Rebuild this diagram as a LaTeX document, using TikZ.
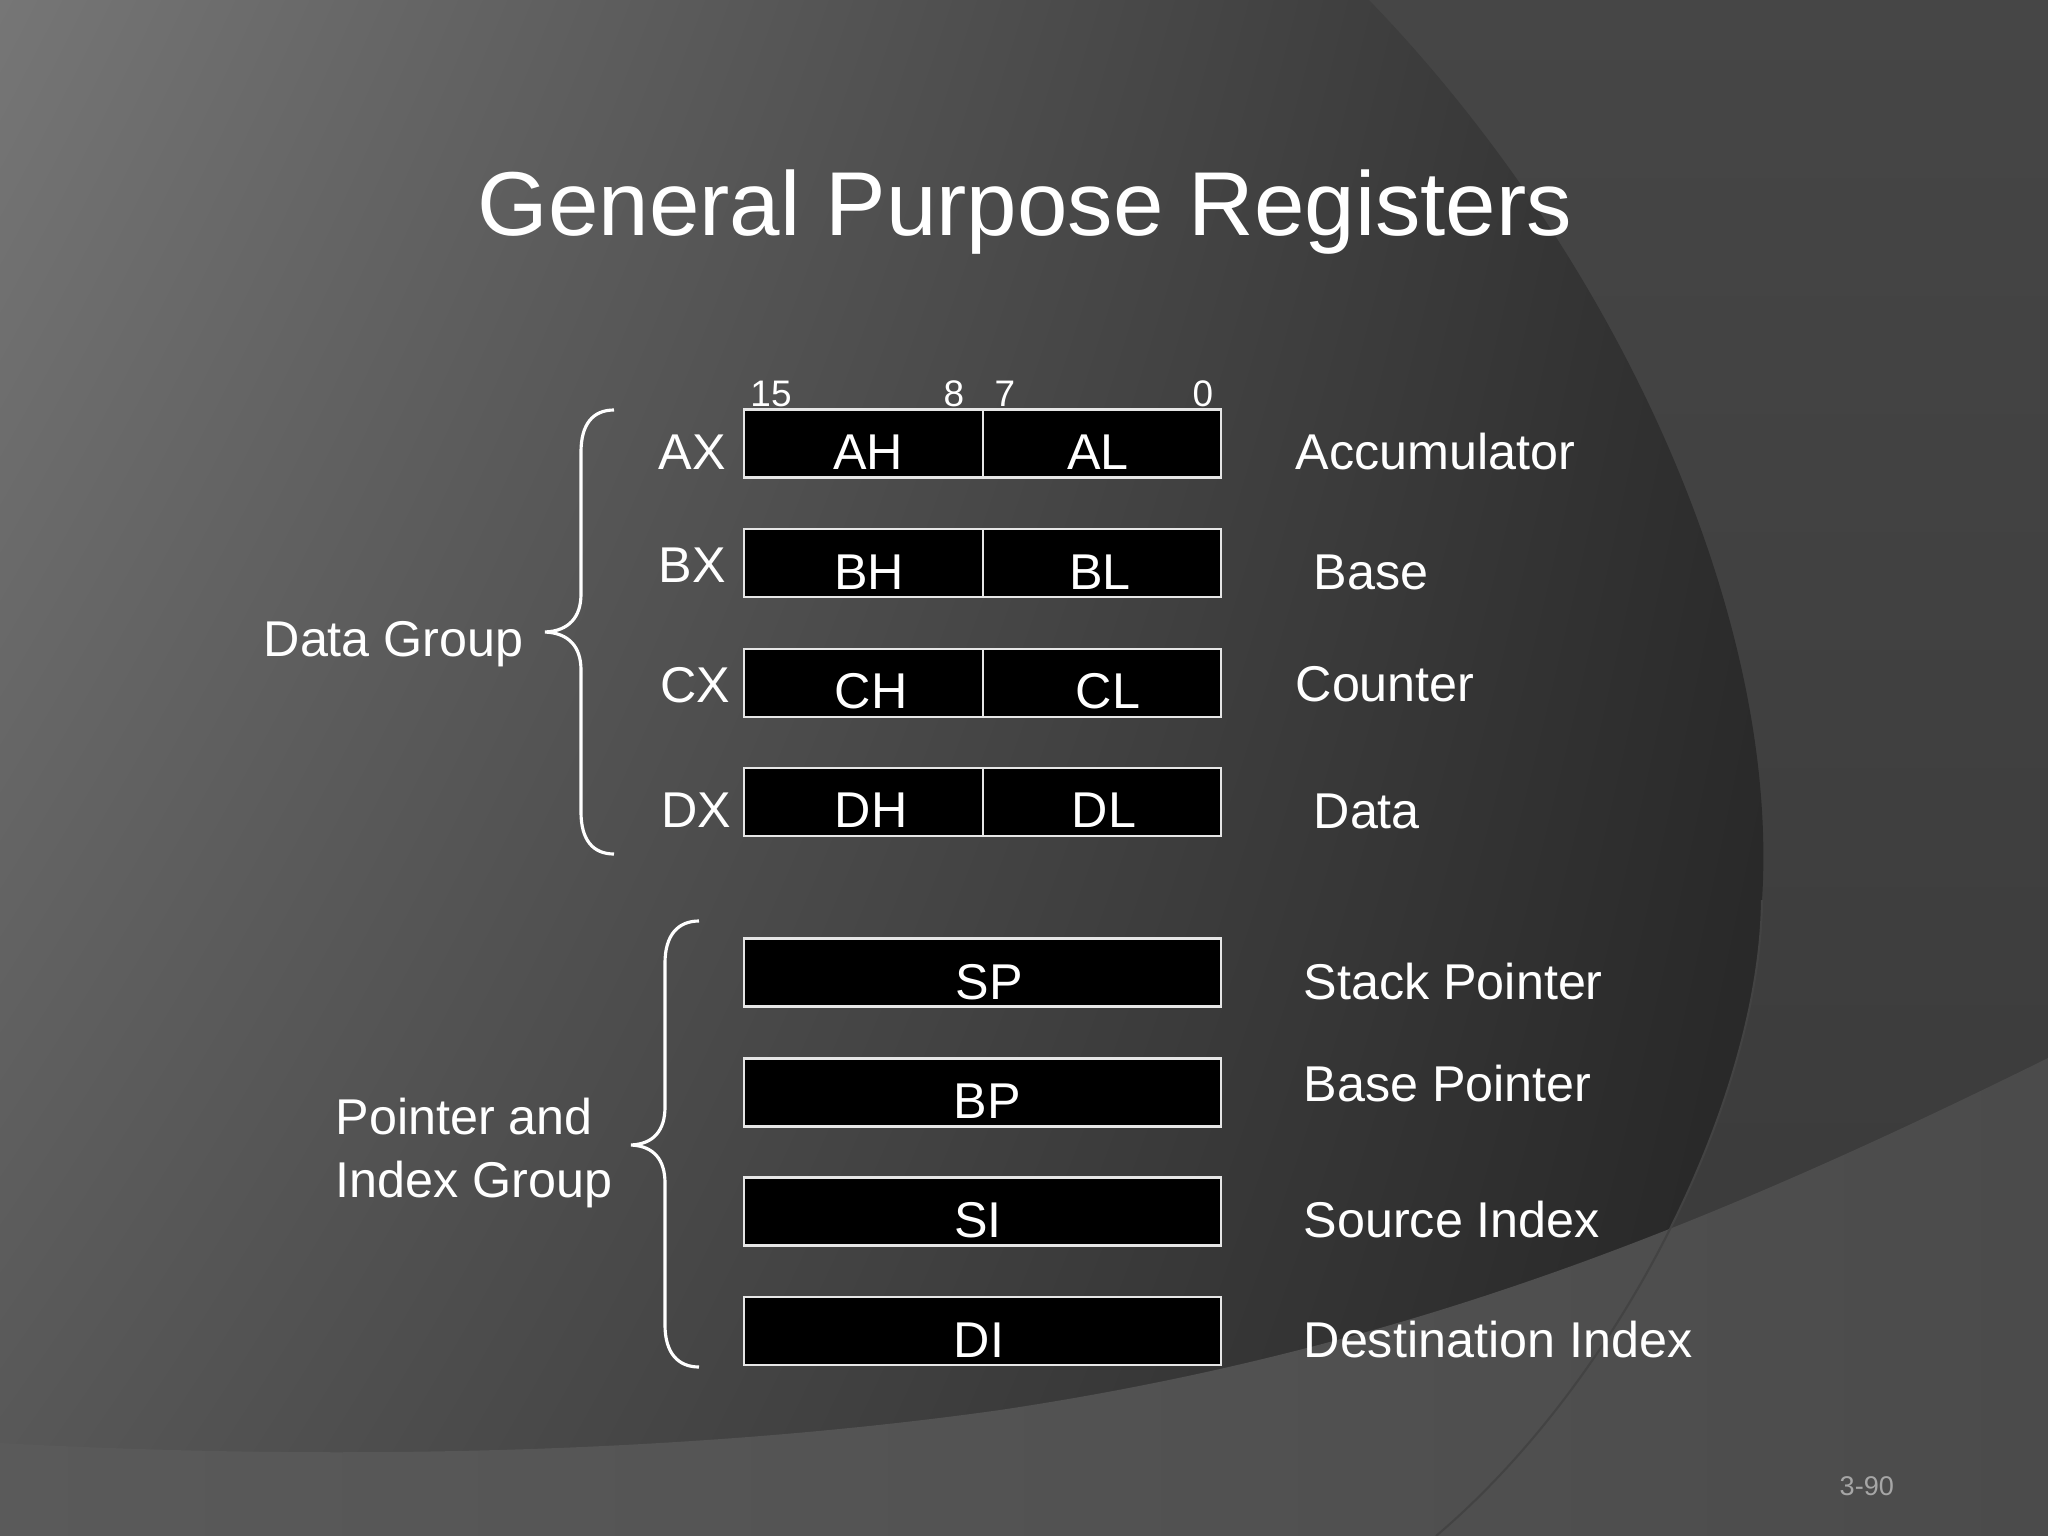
\documentclass[tikz,border=0pt]{standalone}
\usepackage{fontspec}
\setmainfont{Liberation Sans}
\usetikzlibrary{shadings}
\definecolor{ulC}{HTML}{767676}
\definecolor{urC}{HTML}{2E2E2E}
\definecolor{llC}{HTML}{565656}
\definecolor{lrC}{HTML}{242424}
\definecolor{outTop}{HTML}{464646}
\definecolor{outBot}{HTML}{393939}
\definecolor{bandL}{HTML}{5A5A5A}
\definecolor{bandR}{HTML}{4B4B4B}
\definecolor{arcLine}{HTML}{434343}
\definecolor{boxLine}{HTML}{E6E6E6}
\definecolor{pageNum}{HTML}{A6A6A6}
\begin{document}
\begin{tikzpicture}[x=0.01cm, y=-0.01cm,
  lbl/.style={text=white, inner sep=0pt, font=\fontsize{14.3pt}{17pt}\selectfont},
  bitnum/.style={text=white, inner sep=0pt, font=\fontsize{10.5pt}{12pt}\selectfont},
  regbox/.style={draw=boxLine, fill=black, line width=0.7pt, minimum height=0.68cm, inner sep=0pt},
  brc/.style={draw=white, line width=0.9pt}]
% ---- background ----
\useasboundingbox (0,0) rectangle (2048,1536);
\shade[top color=outTop, bottom color=outBot] (0,0) rectangle (2048,1536);
\shade[upper left=ulC, upper right=urC, lower left=llC, lower right=lrC]
  (0,0) -- (1369,0) .. controls (1620,260) and (1780,620) .. (1762,900)
  .. controls (1760,1100) and (1620,1380) .. (1436,1536) -- (0,1536) -- cycle;
\shade[left color=bandL, right color=bandR]
  (0,1443) .. controls (350,1462) and (700,1452) .. (1000,1410)
  .. controls (1400,1350) and (1700,1230) .. (2048,1058) -- (2048,1536) -- (0,1536) -- cycle;
\draw[arcLine, line width=0.6pt] (1762,900) .. controls (1760,1100) and (1620,1380) .. (1436,1536);
% ---- title ----
\node[lbl, font=\fontsize{25.8pt}{30pt}\selectfont, anchor=base] (title) at (1025,235) {General Purpose Registers};
% ---- bit numbers ----
\node[bitnum, anchor=base] (b15) at (771,406) {15};
\node[bitnum, anchor=base] (b8) at (954,406) {8};
\node[bitnum, anchor=base] (b7) at (1005,406) {7};
\node[bitnum, anchor=base] (b0) at (1203,406) {0};
% ---- data registers ----
\node[regbox, minimum width=2.39cm] (AHbox) at (863.5,443.5) {};
\node[regbox, minimum width=2.38cm] (ALbox) at (1102,443.5) {};
\node[regbox, minimum width=2.39cm] (BHbox) at (863.5,563) {};
\node[regbox, minimum width=2.38cm] (BLbox) at (1102,563) {};
\node[regbox, minimum width=2.39cm] (CHbox) at (863.5,683) {};
\node[regbox, minimum width=2.38cm] (CLbox) at (1102,683) {};
\node[regbox, minimum width=2.39cm] (DHbox) at (863.5,802) {};
\node[regbox, minimum width=2.38cm] (DLbox) at (1102,802) {};
% ---- pointer / index registers ----
\node[regbox, minimum width=4.77cm] (SPbox) at (982.5,972.5) {};
\node[regbox, minimum width=4.77cm] (BPbox) at (982.5,1092.5) {};
\node[regbox, minimum width=4.77cm] (SIbox) at (982.5,1211.5) {};
\node[regbox, minimum width=4.77cm] (DIbox) at (982.5,1331) {};
% ---- register names ----
\node[lbl, anchor=base] (AX) at (692,469) {AX};
\node[lbl, anchor=base] (BX) at (692,582) {BX};
\node[lbl, anchor=base] (CX) at (695,702) {CX};
\node[lbl, anchor=base] (DX) at (696,827) {DX};
\node[lbl, anchor=base] (AH) at (868,469) {AH};
\node[lbl, anchor=base] (AL) at (1098,469) {AL};
\node[lbl, anchor=base] (BH) at (869,589) {BH};
\node[lbl, anchor=base] (BL) at (1100,589) {BL};
\node[lbl, anchor=base] (CH) at (871,708) {CH};
\node[lbl, anchor=base] (CL) at (1108,708) {CL};
\node[lbl, anchor=base] (DH) at (871,827) {DH};
\node[lbl, anchor=base] (DL) at (1104,827) {DL};
\node[lbl, anchor=base] (SP) at (989,999) {SP};
\node[lbl, anchor=base] (BP) at (987,1118) {BP};
\node[lbl, anchor=base] (SI) at (978,1237) {SI};
\node[lbl, anchor=base] (DI) at (979,1357) {DI};
% ---- descriptions ----
\node[lbl, anchor=base west] (dAcc) at (1295,469) {Accumulator};
\node[lbl, anchor=base west] (dBase) at (1313,589) {Base};
\node[lbl, anchor=base west] (dCnt) at (1295,701) {Counter};
\node[lbl, anchor=base west] (dData) at (1313,828) {Data};
\node[lbl, anchor=base west] (dSP) at (1303,999) {Stack Pointer};
\node[lbl, anchor=base west] (dBP) at (1303,1101) {Base Pointer};
\node[lbl, anchor=base west] (dSI) at (1303,1237) {Source Index};
\node[lbl, anchor=base west] (dDI) at (1303,1357) {Destination Index};
% ---- group labels ----
\node[lbl, anchor=base west] (gData) at (263,656) {Data Group};
\node[lbl, anchor=base west] (gPtr1) at (335,1134) {Pointer and};
\node[lbl, anchor=base west] (gPtr2) at (335,1197) {Index Group};
% ---- braces ----
\draw[brc] (614,410) .. controls (593,410) and (581,424) .. (581,452) -- (581,594)
  .. controls (581,617) and (569,631) .. (545,632)
  .. controls (569,633) and (581,647) .. (581,670) -- (581,812)
  .. controls (581,840) and (593,854) .. (614,854);
\draw[brc] (699,921) .. controls (678,921) and (665,935) .. (665,963) -- (665,1107)
  .. controls (665,1130) and (654,1144) .. (631,1145)
  .. controls (654,1146) and (665,1160) .. (665,1183) -- (665,1325)
  .. controls (665,1353) and (678,1367) .. (699,1367);
% ---- page number ----
\node[text=pageNum, inner sep=0pt, anchor=base west, font=\fontsize{7.7pt}{9pt}\selectfont] (pg) at (1839,1495) {3-90};
\end{tikzpicture}
\end{document}
